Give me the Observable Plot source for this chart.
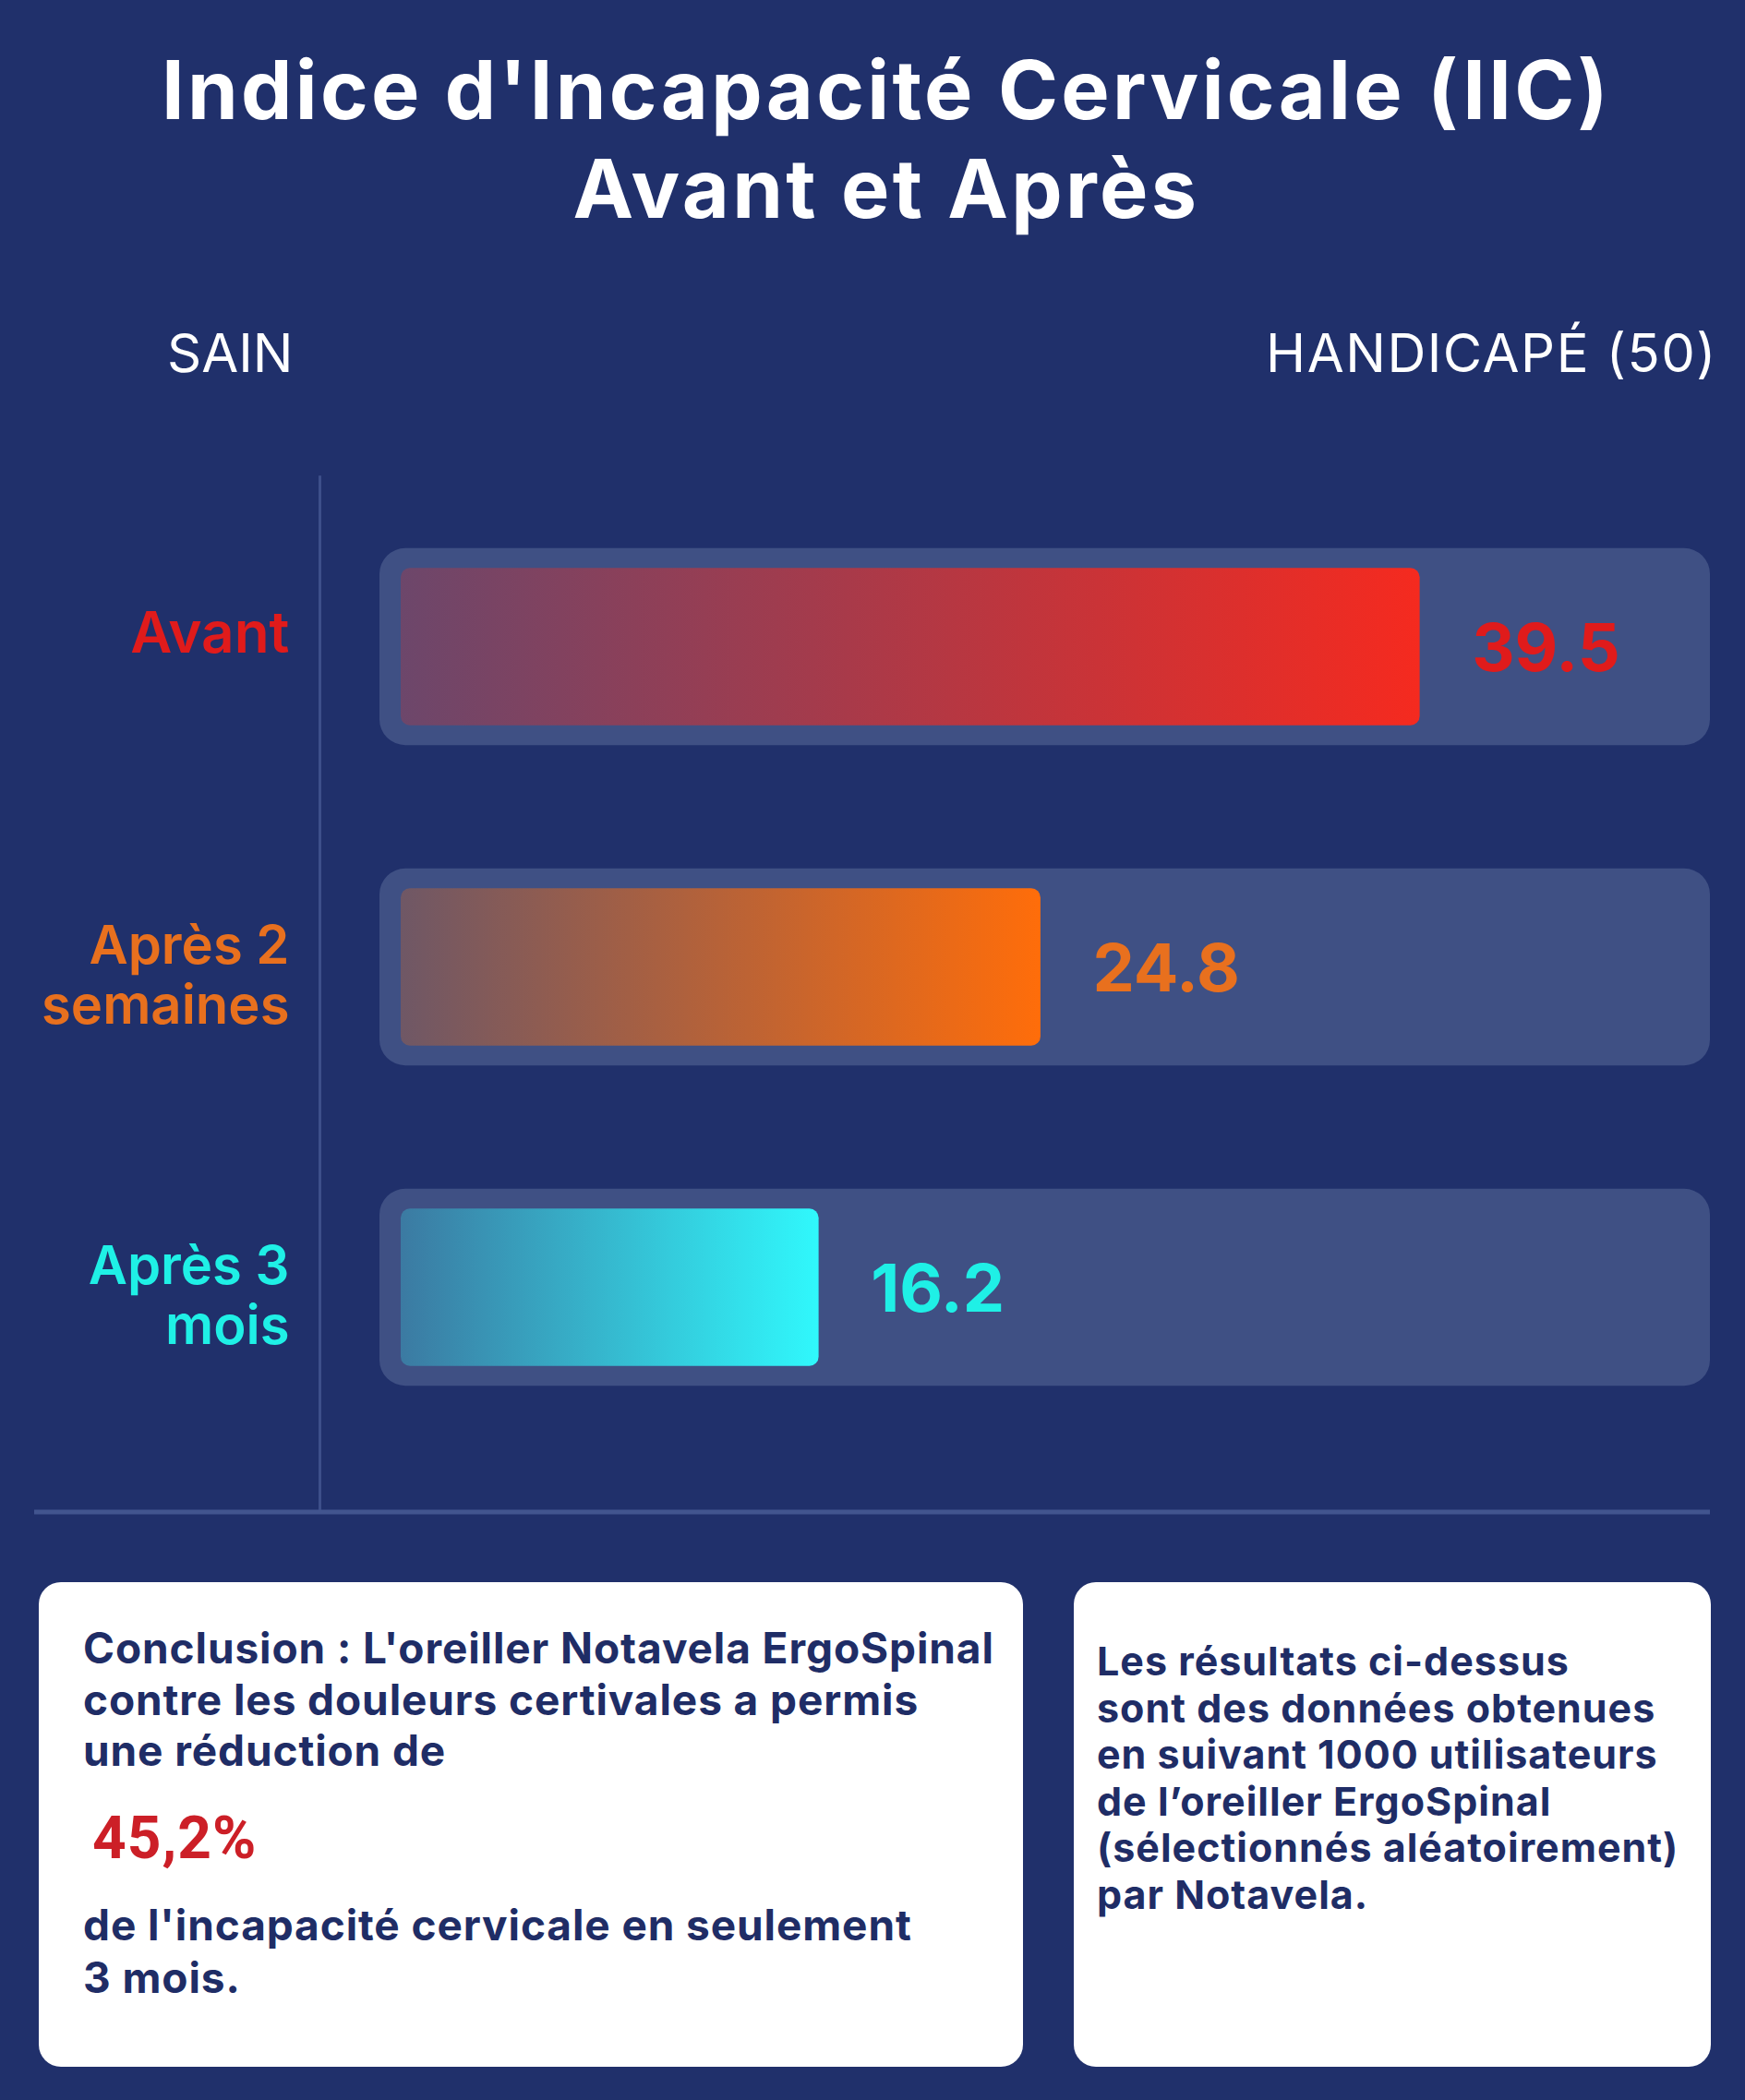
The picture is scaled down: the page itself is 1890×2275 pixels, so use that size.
<!DOCTYPE html>
<html><head><meta charset="utf-8">
<script src="https://cdn.jsdelivr.net/npm/d3@7"></script>
<script src="https://cdn.jsdelivr.net/npm/@observablehq/plot@0.6"></script>
<style>
html,body{margin:0;padding:0;background:#20306b;}
body{width:1890px;height:2275px;position:relative;overflow:hidden;font-family:Inter,"Open Sans",sans-serif;}
.title{position:absolute;left:15px;width:1890px;top:44px;text-align:center;color:#fff;font-weight:700;font-size:88px;line-height:107px;letter-spacing:3.3px;}
.end{position:absolute;top:353px;color:#fff;font-size:58px;line-height:58px;font-weight:400;}
#chart{position:absolute;left:0;top:460px;}
.box{position:absolute;top:1714px;height:525px;background:#fff;border-radius:24px;color:#1f2d66;font-weight:700;}
.box .t{position:absolute;}
</style></head>
<body>
<div class="title">Indice d'Incapacité Cervicale (IIC)<br>Avant et Après</div>
<div class="end" id="lo" style="left:181px;"></div>
<div class="end" id="hi" style="right:30px;letter-spacing:1.5px;"></div>
<div id="chart"></div>
<div class="box" style="left:42px;width:1066px;">
  <div class="t" id="concl" style="left:48px;top:44px;font-size:46px;line-height:55.5px;letter-spacing:0.9px;"></div>
  <div class="t" id="pct" style="left:58px;top:246px;font-size:64px;line-height:64px;color:#cc1f27;font-family:Roboto,Arial,sans-serif;letter-spacing:1px;"></div>
  <div class="t" id="concl2" style="left:48px;top:343px;font-size:46px;line-height:57px;letter-spacing:0.9px;"></div>
</div>
<div class="box" style="left:1163px;width:690px;">
  <div class="t" id="note" style="left:25px;top:60px;font-size:43px;line-height:50.5px;letter-spacing:1px;"></div>
</div>
<script>
// ---- data ----
const categories = ["Avant", "Après 2 semaines", "Après 3 mois"];
const tickLabels = ["Avant", "Après 2\nsemaines", "Après 3\nmois"];
const values = [39.5, 24.8, 16.2];
const barColors = ["#f52a1f", "#ff6d0a", "#30f8fc"];
const labelColors = ["#e01b1b", "#e8701e", "#1ff0e6"];
const scaleMin = 0, scaleMax = 50;
const endLabels = ["SAIN", "HANDICAPÉ (50)"];
const conclusionLines = ["Conclusion : L'oreiller Notavela ErgoSpinal", "contre les douleurs certivales a permis", "une réduction de"];
const reductionText = "45,2%";
const conclusionEnd = ["de l'incapacité cervicale en seulement", "3 mois."];
const noteLines = ["Les résultats ci-dessus", "sont des données obtenues", "en suivant 1000 utilisateurs", "de l’oreiller ErgoSpinal", "(sélectionnés aléatoirement)", "par Notavela."];

document.getElementById("lo").textContent = endLabels[0];
document.getElementById("hi").textContent = endLabels[1];
document.getElementById("concl").innerHTML = conclusionLines.join("<br>");
document.getElementById("pct").textContent = reductionText;
document.getElementById("concl2").innerHTML = conclusionEnd.join("<br>");
document.getElementById("note").innerHTML = noteLines.join("<br>");

const rows = categories.map((c, i) => ({cat: c, label: tickLabels[i], value: values[i], i}));

const marks = [
  Plot.ruleX([scaleMin], {dx: -88, insetTop: -11, insetBottom: -69, stroke: "#3d4f8a", strokeWidth: 3}),
  Plot.ruleY([categories[categories.length - 1]], {dy: 243, insetLeft: -397, insetRight: -21, stroke: "#42558f", strokeWidth: 5}),
  Plot.barX(rows, {y: "cat", x1: () => scaleMin, x2: () => scaleMax, insetLeft: -23, insetRight: -21, insetTop: 66.75, insetBottom: 66.75, rx: 28, fill: "#3f5084"})
];
rows.forEach((r, i) => {
  const single = !r.label.includes("\n");
  marks.push(
    Plot.barX([r], {y: "cat", x: "value", insetTop: 88.25, insetBottom: 88.25, rx: 10, fill: `url(#grad${i})`}),
    Plot.text([r], {y: "cat", text: "label", frameAnchor: "left", dx: -121, dy: single ? -16 : 8, textAnchor: "end", lineAnchor: "middle", lineHeight: 1.12, fill: labelColors[i], fontSize: single ? 62 : 58, fontWeight: 600}),
    Plot.text([r], {y: "cat", x: "value", text: d => d.value.toFixed(1), dx: 56, dy: 3, textAnchor: "start", lineAnchor: "middle", fill: labelColors[i], fontSize: 72, fontWeight: 700})
  );
});

const svg = Plot.plot({
  width: 1890, height: 1200,
  marginLeft: 434, marginRight: 59, marginTop: 66.25, marginBottom: 91.25,
  x: {domain: [scaleMin, scaleMax], axis: null},
  y: {domain: categories, axis: null, padding: 0},
  style: {background: "transparent", fontFamily: "Inter, 'Open Sans', sans-serif", overflow: "visible"},
  marks
});
const defs = d3.select(svg).insert("defs", ":first-child");
barColors.forEach((c, i) => {
  const g = defs.append("linearGradient").attr("id", `grad${i}`).attr("x1", 0).attr("x2", 1).attr("y1", 0).attr("y2", 0);
  g.append("stop").attr("offset", "0%").attr("stop-color", c).attr("stop-opacity", 0.25);
  g.append("stop").attr("offset", "100%").attr("stop-color", c).attr("stop-opacity", 1);
});
document.getElementById("chart").appendChild(svg);
</script>
</body></html>
